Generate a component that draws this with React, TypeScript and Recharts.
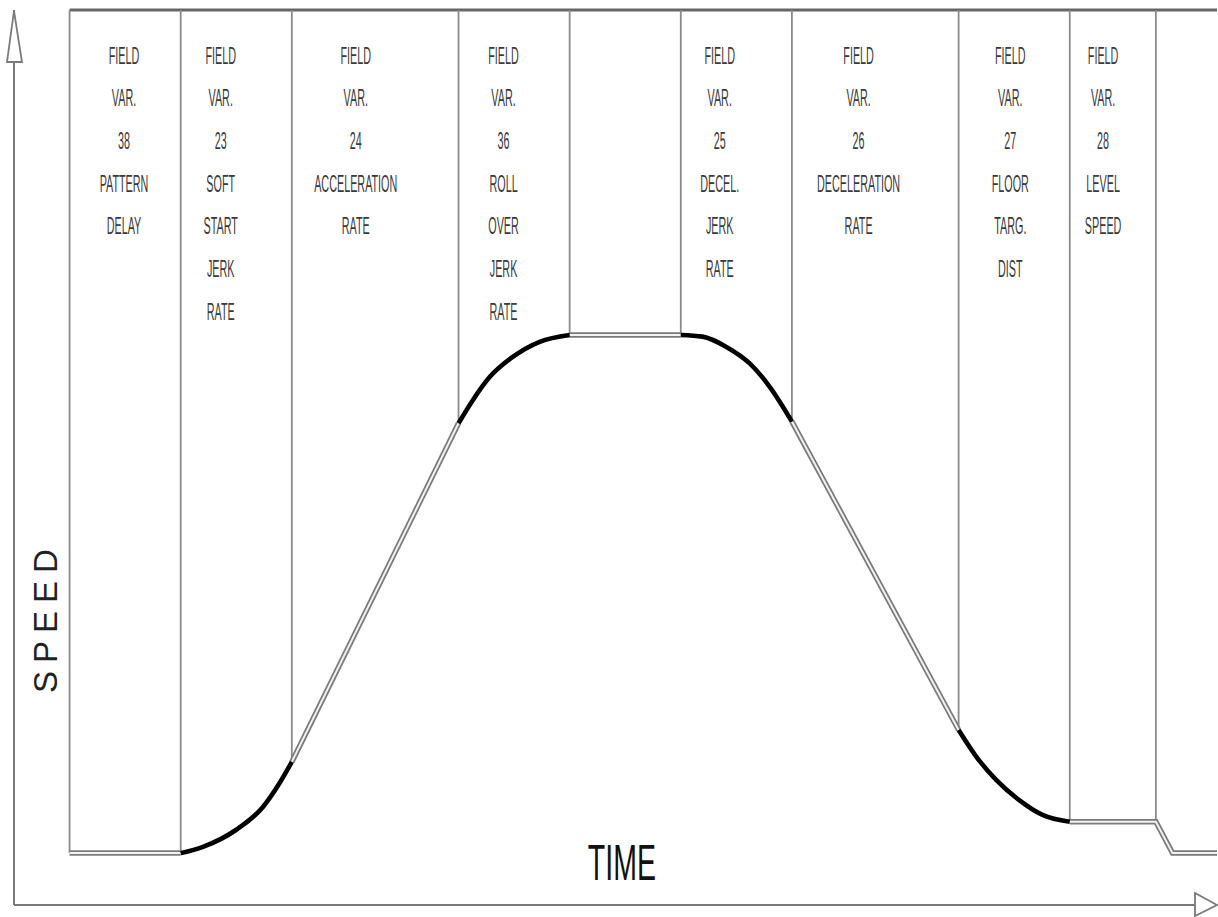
import { LineChart, Line, XAxis, YAxis, ReferenceLine, ReferenceDot } from 'recharts';

// time units on x, speed (0-100 = contract speed) on y
const T_MAX = 21.65;
const V_MAX = 157;

const boundaries = [1, 3, 5, 8, 10, 12, 14, 17, 19, 20.55];

// straight sections (drawn as double line)
const patternDelay = [{ t: 1, v: 9.1 }, { t: 3, v: 9.1 }];
const accel = [{ t: 5, v: 25.1 }, { t: 8, v: 84.5 }];
const cruise = [{ t: 10, v: 100 }, { t: 12, v: 100 }];
const decel = [{ t: 14, v: 84.8 }, { t: 17, v: 30.7 }];
const leveling = [{ t: 19, v: 14.6 }, { t: 20.55, v: 14.6 }, { t: 20.85, v: 9.1 }, { t: 21.65, v: 9.1 }];

// jerk sections (drawn as heavy curve)
const softStart = [
  { t: 3, v: 9.1 }, { t: 3.4, v: 10.2 }, { t: 4, v: 13.2 },
  { t: 4.48, v: 17.2 }, { t: 4.78, v: 21.4 }, { t: 5, v: 25.1 },
];
const rollOver = [
  { t: 8, v: 84.5 }, { t: 8.26, v: 88.6 }, { t: 8.56, v: 92.6 },
  { t: 8.97, v: 96.1 }, { t: 9.46, v: 98.8 }, { t: 10, v: 100 },
];
const decelJerk = [
  { t: 12, v: 100 }, { t: 12.39, v: 99.7 }, { t: 12.82, v: 97.9 },
  { t: 13.24, v: 95 }, { t: 13.6, v: 90.9 }, { t: 14, v: 84.8 },
];
const floorTarget = [
  { t: 17, v: 30.7 }, { t: 17.32, v: 26 }, { t: 17.68, v: 21.9 },
  { t: 18.09, v: 18.4 }, { t: 18.51, v: 15.8 }, { t: 19, v: 14.6 },
];

const columnLabels = [
  ['FIELD', 'VAR.', '38', 'PATTERN', 'DELAY'],
  ['FIELD', 'VAR.', '23', 'SOFT', 'START', 'JERK', 'RATE'],
  ['FIELD', 'VAR.', '24', 'ACCELERATION', 'RATE'],
  ['FIELD', 'VAR.', '36', 'ROLL', 'OVER', 'JERK', 'RATE'],
  [],
  ['FIELD', 'VAR.', '25', 'DECEL.', 'JERK', 'RATE'],
  ['FIELD', 'VAR.', '26', 'DECELERATION', 'RATE'],
  ['FIELD', 'VAR.', '27', 'FLOOR', 'TARG.', 'DIST'],
  ['FIELD', 'VAR.', '28', 'LEVEL', 'SPEED'],
];
const labelCenters = [1.98, 3.72, 6.15, 8.81, 11, 12.7, 15.2, 17.93, 19.6];

const doubleSegs = [patternDelay, accel, cruise, decel, leveling];
const jerkSegs = [softStart, rollOver, decelJerk, floorTarget];

const allPts = [...doubleSegs, ...jerkSegs].flat();
const speedAt = (t: number) => allPts.find((p) => p.t === t)?.v ?? 0;

const GRID = '#8a8a8a';

const ColumnText = (lines: string[]) => (p: any) => (
  <g>
    {lines.map((s, i) => (
      <g key={i} transform={`translate(${p.cx},${p.cy + i * 42.7}) scale(0.45,1)`}>
        <text textAnchor="middle" fontFamily="'Liberation Sans', Arial, sans-serif" fontSize={24} fill="#3a3a3a">
          {s}
        </text>
      </g>
    ))}
  </g>
);

export default function App() {
  return (
    <div style={{ position: 'absolute', left: 0, top: 0, background: '#fff' }}>
      <LineChart width={1218} height={917} margin={{ top: 10, right: 1, bottom: 12, left: 14 }}>
        <XAxis type="number" dataKey="t" domain={[0, T_MAX]} hide allowDuplicatedCategory={false} />
        <YAxis type="number" dataKey="v" domain={[0, V_MAX]} hide />

        {/* axes */}
        <ReferenceLine x={0} stroke="#7a7a7a" strokeWidth={2} ifOverflow="visible" />
        <ReferenceLine y={0} stroke="#7a7a7a" strokeWidth={2} ifOverflow="visible" />
        <ReferenceLine segment={[{ x: 1, y: V_MAX }, { x: T_MAX, y: V_MAX }]} stroke="#666" strokeWidth={3} ifOverflow="visible" />

        {boundaries.map((b) => (
          <ReferenceLine key={b} segment={[{ x: b, y: speedAt(b) }, { x: b, y: V_MAX }]} stroke={GRID} strokeWidth={1.8} ifOverflow="visible" />
        ))}

        {doubleSegs.map((d, i) => (
          <Line key={'o' + i} data={d} dataKey="v" type="linear" stroke="#7a7a7a" strokeWidth={5.5} dot={false} activeDot={false} isAnimationActive={false} />
        ))}
        {doubleSegs.map((d, i) => (
          <Line key={'i' + i} data={d} dataKey="v" type="linear" stroke="#f2f2f2" strokeWidth={2} dot={false} activeDot={false} isAnimationActive={false} />
        ))}
        {jerkSegs.map((d, i) => (
          <Line key={'j' + i} data={d} dataKey="v" type="monotone" stroke="#000" strokeWidth={4.6} dot={false} activeDot={false} isAnimationActive={false} />
        ))}

        {columnLabels.map((lines, i) =>
          lines.length ? (
            <ReferenceDot key={'c' + i} x={labelCenters[i]} y={147.6} ifOverflow="visible" shape={ColumnText(lines)} />
          ) : null
        )}

        {/* arrow heads */}
        <ReferenceDot x={0} y={V_MAX} ifOverflow="visible" shape={(p: any) => (
          <polygon points={`${p.cx},${p.cy + 1} ${p.cx - 7},${p.cy + 52} ${p.cx + 8},${p.cy + 52}`} fill="#fff" stroke="#7a7a7a" strokeWidth={1.8} />
        )} />
        <ReferenceDot x={T_MAX} y={0} ifOverflow="visible" shape={(p: any) => (
          <polygon points={`${p.cx},${p.cy} ${p.cx - 22},${p.cy - 12} ${p.cx - 22},${p.cy + 11}`} fill="#fff" stroke="#7a7a7a" strokeWidth={1.8} />
        )} />

        <ReferenceDot x={0.56} y={50.5} ifOverflow="visible" shape={(p: any) => (
          <text x={p.cx} y={p.cy} transform={`rotate(-90 ${p.cx} ${p.cy})`} textAnchor="middle" dominantBaseline="central"
            fontFamily="'Liberation Sans', Arial, sans-serif" fontSize={33} letterSpacing={8} fill="#222">
            SPEED
          </text>
        )} />
        <ReferenceDot x={10.94} y={4.4} ifOverflow="visible" shape={(p: any) => (
          <g transform={`translate(${p.cx},${p.cy}) scale(0.57,1)`}>
            <text textAnchor="middle" fontFamily="'Liberation Sans', Arial, sans-serif" fontSize={50} fill="#111">TIME</text>
          </g>
        )} />
      </LineChart>
    </div>
  );
}
